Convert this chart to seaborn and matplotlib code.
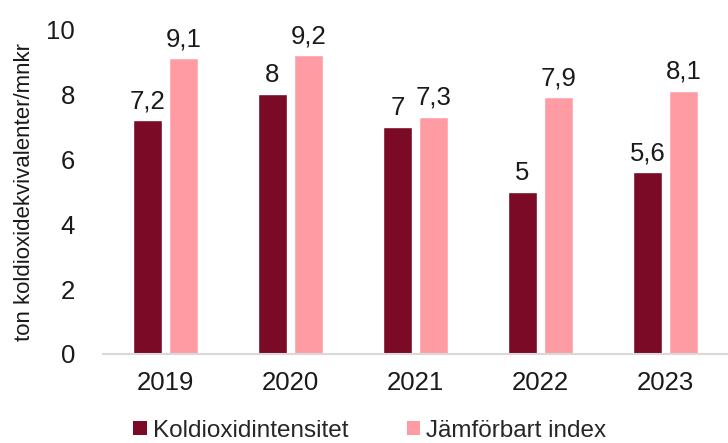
import matplotlib
matplotlib.use("Agg")
import matplotlib.pyplot as plt
import seaborn as sns
import pandas as pd
from matplotlib.patches import Patch

years = ["2019", "2020", "2021", "2022", "2023"]
intensity = [7.2, 8.0, 7.0, 5.0, 5.6]
comparable = [9.1, 9.2, 7.3, 7.9, 8.1]
series_names = ["Koldioxidintensitet", "Jämförbart index"]
y_ticks = [0, 2, 4, 6, 8, 10]
y_label = "ton koldioxidekvivalenter/mnkr"

colors = ["#7A0A25", "#FF9CA3"]

df = pd.DataFrame({
    "year": years * 2,
    "value": intensity + comparable,
    "series": [series_names[0]] * len(years) + [series_names[1]] * len(years),
})

sns.set_theme(style="white")
plt.rcParams["font.family"] = ["Liberation Sans", "DejaVu Sans"]

fig = plt.figure(figsize=(7.28, 4.43), dpi=100)
ax = fig.add_axes([0.1415, 0.201, 0.8585, 0.733])

sns.barplot(data=df, x="year", y="value", hue="series", order=years,
            hue_order=series_names, palette=colors, width=0.58, gap=0.2,
            saturation=1, legend=False, ax=ax)

def fmt(v):
    s = f"{v:.1f}".replace(".", ",")
    return s[:-2] if s.endswith(",0") else s

for cont in ax.containers:
    labels = [fmt(b.get_height()) for b in cont]
    ax.bar_label(cont, labels=labels, padding=5, fontsize=18.5, color="#1a1a1a")

ax.set_xlim(-0.5, 4.5)
ax.set_ylim(0, 10)
ax.set_yticks(y_ticks)
ax.set_yticklabels([str(t) for t in y_ticks])
ax.tick_params(axis="both", labelsize=18.5, colors="#1a1a1a", length=0)
ax.tick_params(axis="x", pad=12)
ax.tick_params(axis="y", pad=20)
ax.set_xlabel("")
ax.set_ylabel(y_label, fontsize=16, color="#1a1a1a", labelpad=8)

for side in ["top", "right", "left"]:
    ax.spines[side].set_visible(False)
ax.spines["bottom"].set_color("#D9D9D9")
ax.spines["bottom"].set_linewidth(1.5)

handles = [Patch(facecolor=c, edgecolor="none") for c in colors]
fig.legend(handles, series_names, loc="center", bbox_to_anchor=(0.508, 0.028),
           ncol=2, frameon=False, fontsize=17.5, handlelength=0.55,
           handleheight=0.55, handletextpad=0.25, columnspacing=2.4)

fig.savefig("out.png", dpi=100)
